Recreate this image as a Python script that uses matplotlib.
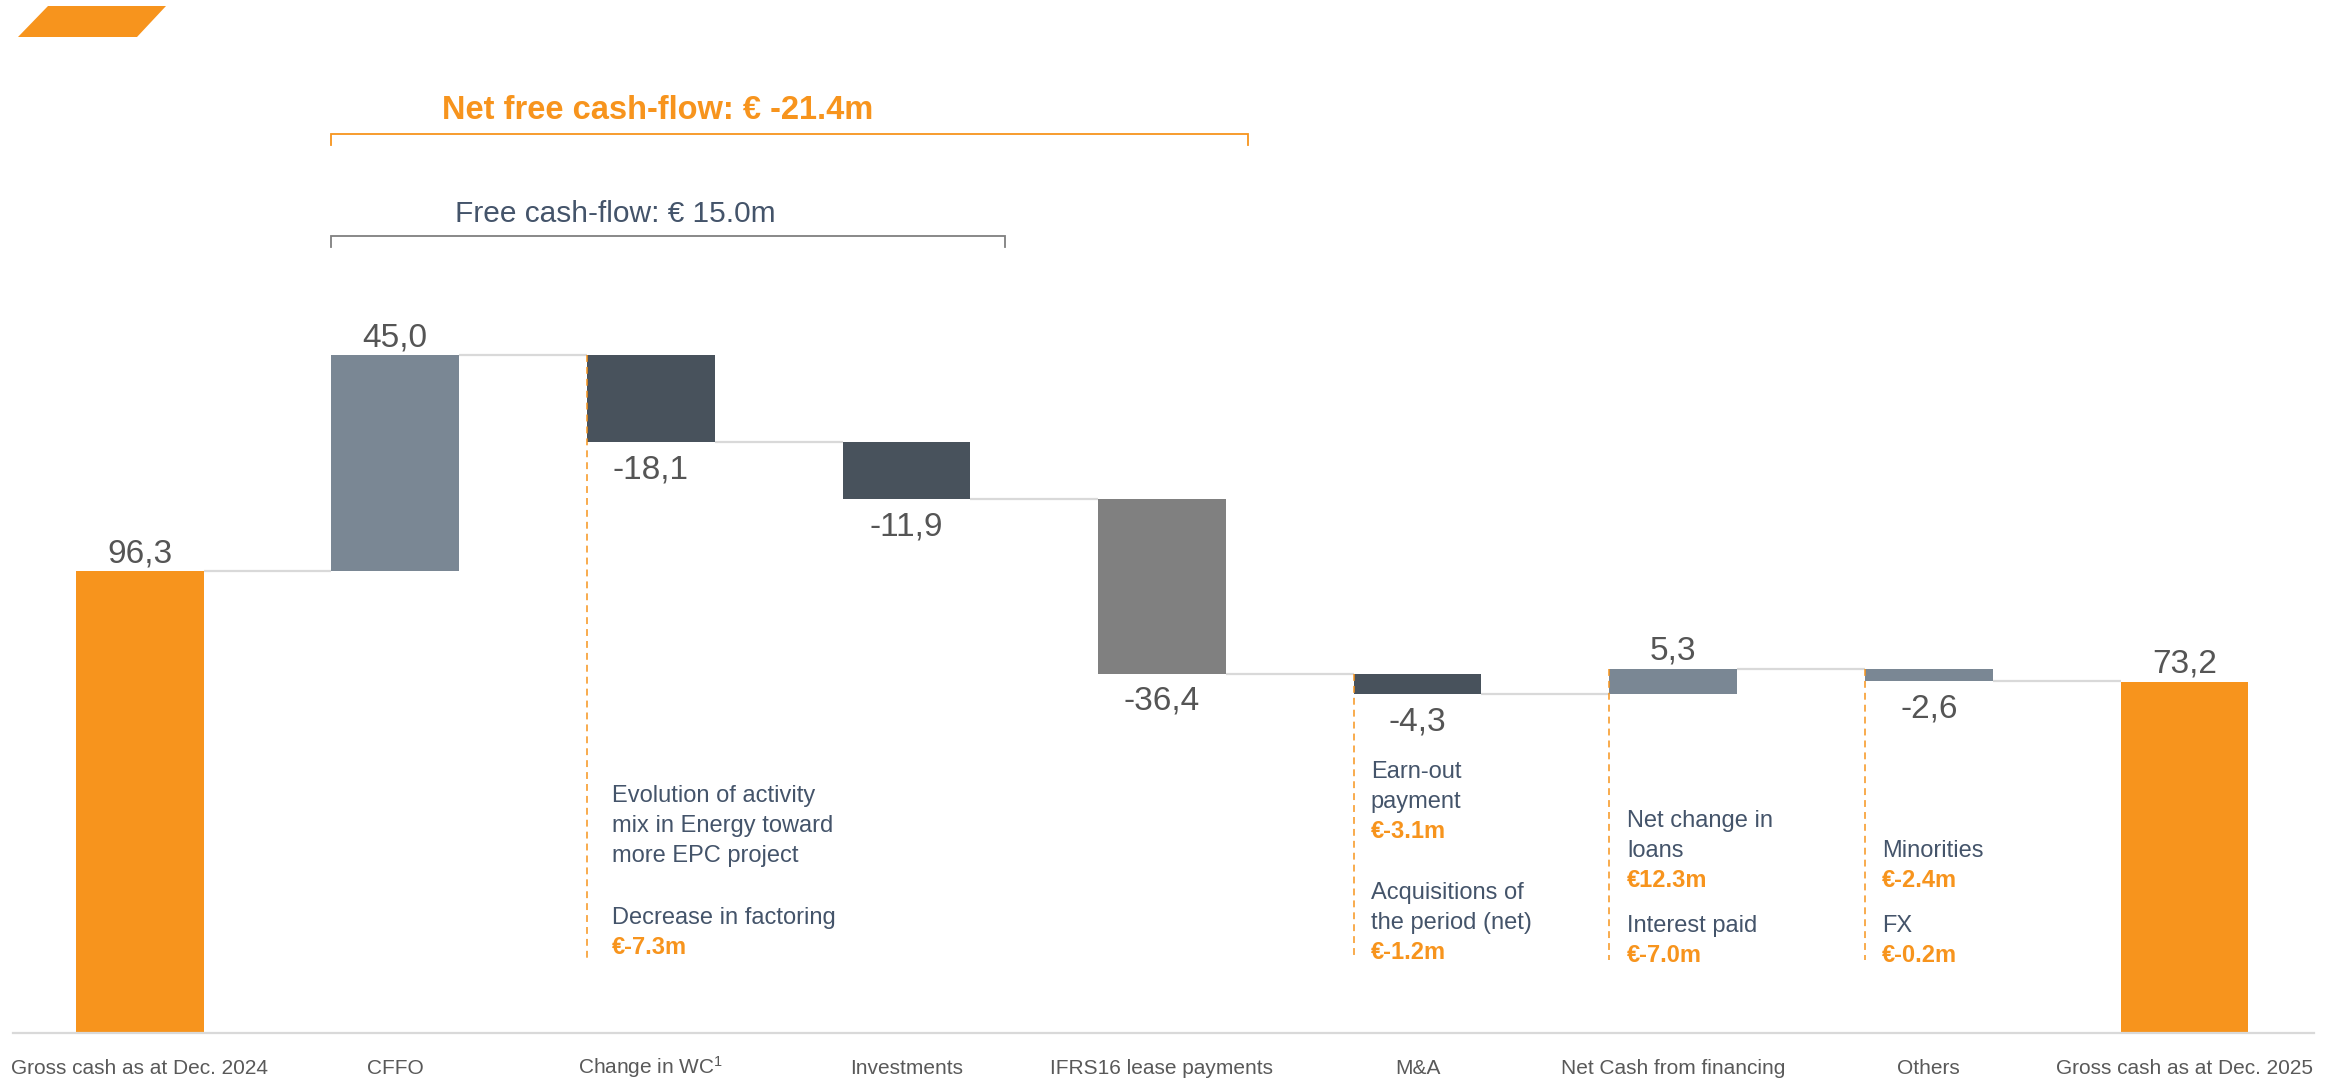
import matplotlib
matplotlib.use("Agg")
import matplotlib.pyplot as plt
from matplotlib.patches import Polygon

# ---------------- data ----------------
categories = ["Gross cash as at Dec. 2024", "CFFO", "Change in WC$^1$", "Investments",
              "IFRS16 lease payments", "M&A", "Net Cash from financing", "Others",
              "Gross cash as at Dec. 2025"]
values = [96.3, 45.0, -18.1, -11.9, -36.4, -4.3, 5.3, -2.6, 73.2]
is_total = [True, False, False, False, False, False, False, False, True]
bar_colors = ["#F7941D", "#7A8794", "#48525C", "#48525C", "#808080",
              "#48525C", "#7A8794", "#7A8794", "#F7941D"]

# annotation blocks: category index -> list of (text, highlighted) lines
annotations = {
    2: [[("Evolution of activity", False), ("mix in Energy toward", False), ("more EPC project", False)],
        [("Decrease in factoring", False), ("€-7.3m", True)]],
    5: [[("Earn-out", False), ("payment", False), ("€-3.1m", True)],
        [("Acquisitions of", False), ("the period (net)", False), ("€-1.2m", True)]],
    6: [[("Net change in", False), ("loans", False), ("€12.3m", True)],
        [("Interest paid", False), ("€-7.0m", True)]],
    7: [[("Minorities", False), ("€-2.4m", True)],
        [("FX", False), ("€-0.2m", True)]],
}
# first-line baseline (pixels from top) of each annotation group
annotation_baselines = {2: [802, 924], 5: [778, 899], 6: [827, 932], 7: [857, 932]}
annotation_offsets_px = {2: 25, 5: 17, 6: 18, 7: 17}

net_fcf_label = "Net free cash-flow: € -21.4m"
fcf_label = "Free cash-flow: € 15.0m"

# ---------------- style ----------------
ORANGE = "#F7941D"
SLATE = "#44546A"
VALTXT = "#555555"
TICKTXT = "#595959"
REG = ["Liberation Sans", "DejaVu Sans"]

plt.rcParams["font.family"] = REG
plt.rcParams["mathtext.fontset"] = "custom"
plt.rcParams["mathtext.rm"] = "Liberation Sans"
plt.rcParams["mathtext.it"] = "Liberation Sans"

W, H = 2338, 1081
PX_PER_UNIT = 4.797
BASE_PX = 1033
X0_PX, STEP_PX = 139.6, 255.6

fig = plt.figure(figsize=(W / 100, H / 100), dpi=100)
ax = fig.add_axes([13 / W, (H - BASE_PX) / H, (2314 - 13) / W, BASE_PX / H])
ax.set_xlim((13 - X0_PX) / STEP_PX, (2314 - X0_PX) / STEP_PX)
ax.set_ylim(0, BASE_PX / PX_PER_UNIT)


def py(px):
    """pixel row (from top) -> data y"""
    return (BASE_PX - px) / PX_PER_UNIT


def px_dx(px):
    return px / STEP_PX


for s in ["top", "right", "left"]:
    ax.spines[s].set_visible(False)
ax.spines["bottom"].set_color("#D9D9D9")
ax.spines["bottom"].set_linewidth(1.6)
ax.set_yticks([])
ax.set_xticks([])

# waterfall geometry
x = list(range(len(values)))
bottoms, heights, levels = [], [], []
level = 0.0
for v, tot in zip(values, is_total):
    if tot:
        bottoms.append(0.0)
        heights.append(v)
        level = v
    else:
        bottoms.append(level if v > 0 else level + v)
        heights.append(abs(v))
        level += v
    levels.append(level)

bw = 0.5
ax.bar(x, heights, bottom=bottoms, width=bw, color=bar_colors, zorder=2)

# connectors
for i in range(len(values) - 1):
    ax.plot([x[i] + bw / 2, x[i + 1] - bw / 2], [levels[i], levels[i]],
            color="#D9D9D9", lw=1.6, zorder=1, solid_capstyle="butt")

# value labels
VAL_FS = 24
for i, v in enumerate(values):
    txt = f"{v:.1f}".replace(".", ",")
    top = bottoms[i] + heights[i]
    if is_total[i] or v > 0:
        ax.annotate(txt, (x[i], top), xytext=(0, 9 * 0.72), textcoords="offset points",
                    ha="center", va="baseline", fontsize=VAL_FS, color=VALTXT, family=REG)
    else:
        ax.annotate(txt, (x[i], bottoms[i]), xytext=(0, -36 * 0.72), textcoords="offset points",
                    ha="center", va="baseline", fontsize=VAL_FS, color=VALTXT, family=REG)

# dashed guide lines + annotations
LINE_STEP = 29.8
for i, groups in annotations.items():
    left = x[i] - bw / 2
    ax.plot([left, left], [bottoms[i] + heights[i], py(960)], color=ORANGE, lw=1.1,
            linestyle=(0, (4.5, 3.3)), zorder=3)
    tx = left + px_dx(annotation_offsets_px[i])
    for g, lines in enumerate(groups):
        b = annotation_baselines[i][g]
        for k, (t, hl) in enumerate(lines):
            ax.text(tx, py(b + k * LINE_STEP), t, ha="left", va="baseline", fontsize=17,
                    color=ORANGE if hl else SLATE, fontweight="bold" if hl else "normal",
                    family=REG)

# x labels
for i, c in enumerate(categories):
    ax.annotate(c, (x[i], 0), xytext=(0, -41 * 0.72), textcoords="offset points",
                ha="center", va="baseline", fontsize=15, color=TICKTXT, family=REG,
                annotation_clip=False)

# brackets
def bracket(x_left, x_right, y_px, color, lw):
    y1, y2 = py(y_px), py(y_px + 11)
    ax.plot([x_left, x_left, x_right, x_right], [y2, y1, y1, y2], color=color, lw=lw,
            solid_joinstyle="miter", zorder=3)

bracket(x[1] - bw / 2, (1248 - X0_PX) / STEP_PX, 134.3, ORANGE, 1.3)
bracket(x[1] - bw / 2, (1005 - X0_PX) / STEP_PX, 236, "#7F7F7F", 1.3)
ax.text((441.6 - X0_PX) / STEP_PX, py(119.3), net_fcf_label, ha="left", va="baseline",
        fontsize=23.5, fontweight="bold", color=ORANGE, family=REG)
ax.text((455 - X0_PX) / STEP_PX, py(221.7), fcf_label, ha="left", va="baseline",
        fontsize=21.5, color=SLATE, family=REG)

# logo parallelogram (top-left)
pts = [(48, 6), (166, 6), (137, 37), (18, 37)]
fig.patches.append(Polygon([(px / W, 1 - pyy / H) for px, pyy in pts], closed=True,
                           transform=fig.transFigure, facecolor=ORANGE, edgecolor="none"))

fig.savefig("out.png", dpi=100)
